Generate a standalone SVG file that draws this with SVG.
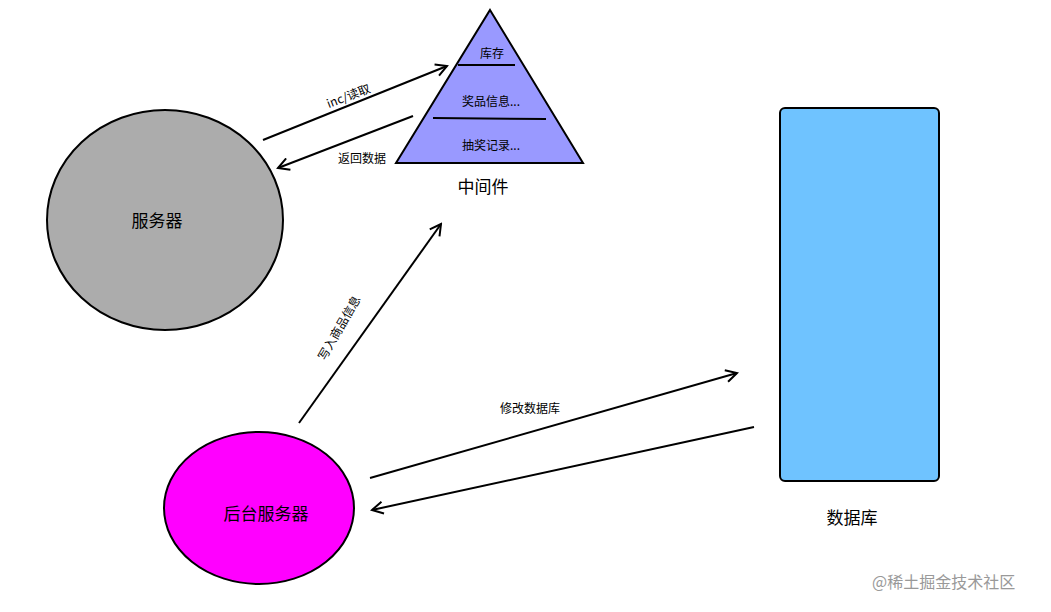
<svg xmlns="http://www.w3.org/2000/svg" width="1051" height="612" viewBox="0 0 1051 612">
<style>
text{font-family:"Noto Sans CJK SC","Liberation Sans",sans-serif;fill:#000}
.s{font-size:12px}.m{font-size:17px}
.c{stroke:#000;stroke-width:2;fill:none}
</style>
<defs><marker id="a" markerWidth="14" markerHeight="14" refX="12" refY="7" orient="auto" markerUnits="userSpaceOnUse"><path d="M1,1 L12,7 L1,13" fill="none" stroke="#000" stroke-width="2"/></marker></defs>
<rect width="1051" height="612" fill="#fff"/>
<g id="server"><ellipse cx="165" cy="220" rx="118" ry="110" fill="#acacac" stroke="#000" stroke-width="2"/><text class="m" x="157" y="227" text-anchor="middle">服务器</text></g>
<g id="middleware"><path d="M490,10 L583,163 L396,163 Z" fill="#9999ff" stroke="#000" stroke-width="2"/>
<line x1="458" y1="65" x2="515" y2="65" stroke="#000" stroke-width="2"/><line x1="433" y1="118" x2="546" y2="119" stroke="#000" stroke-width="2"/>
<text class="s" x="492" y="58" text-anchor="middle">库存</text><text class="s" x="491" y="106" text-anchor="middle">奖品信息...</text><text class="s" x="491" y="150" text-anchor="middle">抽奖记录...</text>
<text class="m" x="483" y="193" text-anchor="middle">中间件</text></g>
<g id="db"><rect x="780" y="108" width="159" height="373" rx="5" fill="#6fc3ff" stroke="#000" stroke-width="2"/><text class="m" x="852" y="524" text-anchor="middle">数据库</text></g>
<g id="backend"><ellipse cx="259" cy="508" rx="95" ry="76" fill="#ff00ff" stroke="#000" stroke-width="2"/><text class="m" x="266" y="520" text-anchor="middle">后台服务器</text></g>
<g id="connectors">
<line class="c" x1="263" y1="140" x2="447" y2="66" marker-end="url(#a)"/>
<line class="c" x1="413" y1="116" x2="278" y2="168" marker-end="url(#a)"/>
<line class="c" x1="299" y1="423" x2="441" y2="224" marker-end="url(#a)"/>
<line class="c" x1="370" y1="478" x2="737" y2="373" marker-end="url(#a)"/>
<line class="c" x1="754" y1="427" x2="372" y2="510" marker-end="url(#a)"/>
<text class="s" transform="translate(350,100) rotate(-21)" text-anchor="middle">inc/读取</text>
<text class="s" x="362" y="163" text-anchor="middle">返回数据</text>
<text class="s" transform="translate(343,330) rotate(-60)" text-anchor="middle">写入商品信息</text>
<text class="s" x="530" y="413" text-anchor="middle">修改数据库</text>
</g>
<text x="872" y="588" style="font-size:16px;fill:#999">@稀土掘金技术社区</text>
</svg>
